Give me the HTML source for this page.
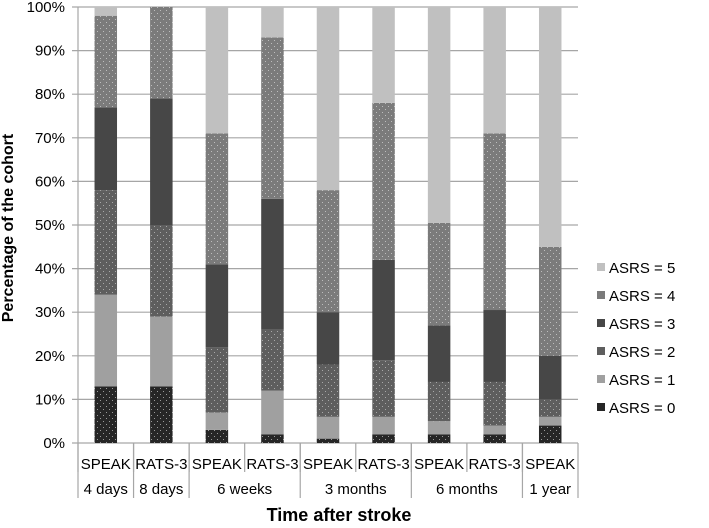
<!DOCTYPE html>
<html><head><meta charset="utf-8"><style>
html,body{margin:0;padding:0;background:#fff;}
svg{display:block;font-family:"Liberation Sans",Arial,sans-serif;}
</style></head><body>
<svg id="chart" width="709" height="528" viewBox="0 0 709 528">
<defs>
<pattern id="d0" width="6" height="6" patternUnits="userSpaceOnUse"><rect width="6" height="6" fill="#262626"/><rect x="1" y="1" width="1" height="1" fill="#9a9a9a"/><rect x="4" y="4" width="1" height="1" fill="#9a9a9a"/></pattern>
<pattern id="d2" width="6" height="6" patternUnits="userSpaceOnUse"><rect width="6" height="6" fill="#5e5e5e"/><rect x="1" y="1" width="1" height="1" fill="#a8a8a8"/><rect x="4" y="4" width="1" height="1" fill="#a8a8a8"/></pattern>
<pattern id="d4" width="6" height="6" patternUnits="userSpaceOnUse"><rect width="6" height="6" fill="#7b7b7b"/><rect x="1" y="1" width="1" height="1" fill="#bdbdbd"/><rect x="4" y="4" width="1" height="1" fill="#bdbdbd"/></pattern>
</defs>
<g id="grid"></g><g id="bars"></g><g id="axes"></g><g id="legend"></g>
<text x="0" y="0" transform="translate(13,228) rotate(-90)" text-anchor="middle" font-size="16" font-weight="bold">Percentage of the cohort</text>
<text x="339" y="521" text-anchor="middle" font-size="18" font-weight="bold">Time after stroke</text>
</svg>
<script>
const categories=["SPEAK","RATS-3","SPEAK","RATS-3","SPEAK","RATS-3","SPEAK","RATS-3","SPEAK"];
const groups=[["4 days",1],["8 days",1],["6 weeks",2],["3 months",2],["6 months",2],["1 year",1]];
const asrs0=[13,13,3,2,1,2,2,2,4];
const asrs1=[21,16,4,10,5,4,3,2,2];
const asrs2=[24,21,15,14,12,13,9,10,4];
const asrs3=[19,29,19,30,12,23,13,16.5,10];
const asrs4=[21,21,30,37,28,36,23.5,40.5,25];
const asrs5=[2,0,29,7,42,22,49.5,29,55];
const yTicks=[0,10,20,30,40,50,60,70,80,90,100];
const seriesNames=["ASRS = 0","ASRS = 1","ASRS = 2","ASRS = 3","ASRS = 4","ASRS = 5"];
const series=[asrs0,asrs1,asrs2,asrs3,asrs4,asrs5];
const fills=["url(#d0)","#a0a0a0","url(#d2)","#474747","url(#d4)","#c0c0c0"];
const legendFills=["#262626","#a0a0a0","#5e5e5e","#474747","#7b7b7b","#c0c0c0"];
const X0=78,XE=578,BW=22.5,Y0=443,Y100=7;
const CW=(XE-X0)/categories.length;
const y=v=>Y0-(Y0-Y100)*v/100;
const xc=i=>X0+CW*(i+0.5);
const NS="http://www.w3.org/2000/svg";
function mk(t,a,p){const e=document.createElementNS(NS,t);for(const k in a)e.setAttribute(k,a[k]);p.appendChild(e);return e;}
const grid=document.getElementById('grid'),bars=document.getElementById('bars'),axes=document.getElementById('axes'),legend=document.getElementById('legend');
yTicks.forEach(t=>{
 const l=mk('line',{x1:72,x2:XE,y1:y(t),y2:y(t),stroke:'#a6a6a6','stroke-width':1.2},grid);
 
 
 const tx=mk('text',{x:65,y:y(t)+5,'text-anchor':'end','font-size':15,fill:'#000'},axes);
 tx.textContent=t+'%';
 
 
});
const ya=mk('line',{x1:X0,x2:X0,y1:Y100,y2:Y0,stroke:'#a6a6a6','stroke-width':1.2},axes);


categories.forEach((c,i)=>{
 let cum=0;
 series.forEach((s,k)=>{
  const v=s[i];
  if(v>0){
   const r=mk('rect',{x:xc(i)-BW/2,y:y(cum+v),width:BW,height:y(cum)-y(cum+v),fill:fills[k]},bars);
   
   
  }
  cum+=v;
 });
 const t=mk('text',{x:xc(i),y:469,'text-anchor':'middle','font-size':15},axes);
 t.textContent=c;
 
 
 const sp=mk('line',{x1:X0+CW*i,x2:X0+CW*i,y1:Y0,y2:472,stroke:'#a6a6a6','stroke-width':1.2},axes);
 
 
});
let gi=0;
groups.forEach(g=>{
 const xs=X0+CW*gi,xe=X0+CW*(gi+g[1]);
 const t=mk('text',{x:(xs+xe)/2,y:494,'text-anchor':'middle','font-size':15},axes);
 t.textContent=g[0];
 
 
 const sp=mk('line',{x1:xs,x2:xs,y1:Y0,y2:498,stroke:'#a6a6a6','stroke-width':1.2},axes);
 
 
 gi+=g[1];
});
const se=mk('line',{x1:XE,x2:XE,y1:Y0,y2:498,stroke:'#a6a6a6','stroke-width':1.2},axes);


for(let k=5;k>=0;k--){
 const yy=268+(5-k)*28;
 const b=mk('rect',{x:597,y:yy-5,width:8,height:8,fill:legendFills[k]},legend);
 
 
 const t=mk('text',{x:609,y:yy+5,'font-size':15},legend);
 t.textContent=seriesNames[k];
 
 
}
</script>
</body></html>
